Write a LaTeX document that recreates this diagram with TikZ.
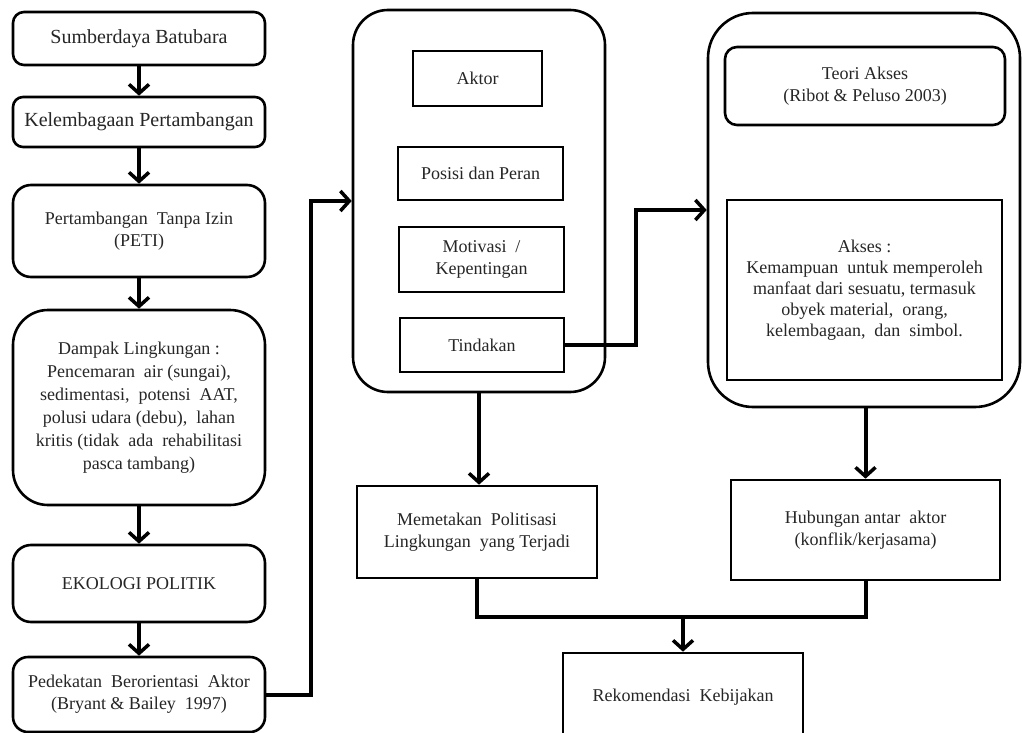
\documentclass[tikz,border=0pt]{standalone}
\usepackage{fontspec}
\setmainfont{Liberation Serif}
\usetikzlibrary{arrows.meta,calc}
\tikzset{
  box/.style={draw=black, line width=2.6pt, fill=white, inner sep=0pt, align=center,
              font=\fontsize{18}{22}\selectfont, text=black!85},
  rbox/.style={box, rounded corners=#1},
  big/.style={draw=black, line width=2.6pt, rounded corners=#1, inner sep=0pt},
  conn/.style={line width=4pt, draw=black},
  arr/.style={conn, -{Straight Barb[length=9pt,width=20pt,line width=3.5pt]}},
}
\begin{document}
\begin{tikzpicture}[x=1pt,y=-1pt]
\useasboundingbox (0,0) rectangle (1022,733);
% left column
\node[rbox=11pt, minimum width=252pt, minimum height=53pt, font=\fontsize{20}{24}\selectfont] (s1) at (139,38.5) {Sumberdaya Batubara};
\node[rbox=10pt, minimum width=252pt, minimum height=50pt, font=\fontsize{20}{24}\selectfont] (s2) at (139,122) {Kelembagaan Pertambangan};
\node[rbox=18pt, minimum width=252pt, minimum height=92pt] (s3) at (139,231) {Pertambangan\ \ Tanpa Izin\\(PETI)};
\node[rbox=35pt, minimum width=252pt, minimum height=195pt, font=\fontsize{18}{23}\selectfont] (s4) at (139,407.5) {Dampak Lingkungan :\\Pencemaran\ \ air (sungai),\\sedimentasi,\ \ potensi\ \ AAT,\\polusi udara (debu),\ \ lahan\\kritis (tidak\ \ ada\ \ rehabilitasi\\pasca tambang)};
\node[rbox=18pt, minimum width=252pt, minimum height=77pt] (s5) at (139,583.5) {EKOLOGI POLITIK};
\node[rbox=15pt, minimum width=252pt, minimum height=75pt] (s6) at (139,694.5) {Pedekatan\ \ Berorientasi\ \ Aktor\\(Bryant \& Bailey\ \ 1997)};
\foreach \a/\b in {s1/s2,s2/s3,s3/s4,s4/s5,s5/s6}
  \draw[arr] (\a.south) -- (\b.north);
% middle big box
\node[big=35pt, minimum width=252pt, minimum height=382pt] (M) at (479,201) {};
\node[box, minimum width=129pt, minimum height=55pt] (ak) at (477.5,78.5) {Aktor};
\node[box, minimum width=165pt, minimum height=53pt] (po) at (480.5,173.5) {Posisi dan Peran};
\node[box, minimum width=165pt, minimum height=65pt] (mo) at (481.5,259.5) {Motivasi\ \ /\\Kepentingan};
\node[box, minimum width=164pt, minimum height=54pt] (ti) at (482,345) {Tindakan};
% right big box
\node[big=45pt, minimum width=312pt, minimum height=394pt] (R) at (864,210) {};
\node[rbox=12pt, minimum width=280pt, minimum height=78pt] (te) at (865,86) {Teori Akses\\(Ribot \& Peluso 2003)};
\node[box, minimum width=275pt, minimum height=180pt, font=\fontsize{18}{21}\selectfont] (ks) at (864.5,290) {Akses :\\Kemampuan\ \ untuk memperoleh\\manfaat dari sesuatu, termasuk\\obyek material,\ \ orang,\\kelembagaan,\ \ dan\ \ simbol.};
% lower boxes
\node[box, minimum width=240pt, minimum height=92pt] (me) at (477,532) {Memetakan\ \ Politisasi\\Lingkungan\ \ yang Terjadi};
\node[box, minimum width=269pt, minimum height=100pt] (hu) at (865.5,530) {Hubungan antar\ \ aktor\\(konflik/kerjasama)};
\node[box, minimum width=240pt, minimum height=88pt] (re) at (683,697) {Rekomendasi\ \ Kebijakan};
% connectors
\draw[arr] (s6.east) -- ++(45,0) |- (M.west);
\draw[arr] (ti.east) -- ++(71,0) |- (R.west);
\draw[arr] (M.south) -- (M.south |- me.north);
\draw[arr] (hu.north |- R.south) -- (hu.north);
\coordinate (j) at (683,617);
\draw[conn] (me.south) |- (hu.south |- j) -- (hu.south);
\draw[arr] (j) -- (re.north);
\end{tikzpicture}
\end{document}
